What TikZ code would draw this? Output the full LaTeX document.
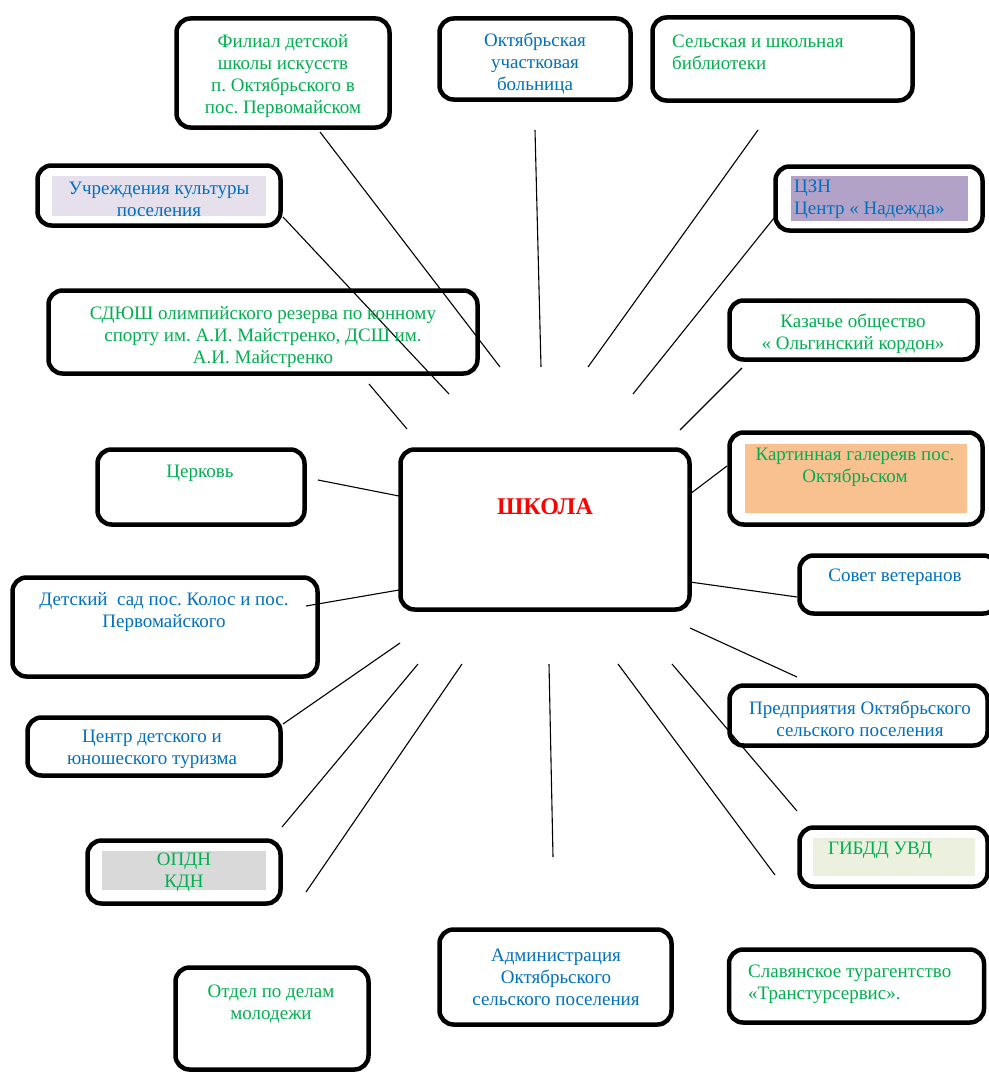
\documentclass[tikz,border=0pt]{standalone}
\usepackage{fontspec}
\setmainfont{Liberation Serif}[Ligatures=TeX]
\definecolor{tgreen}{HTML}{00B050}
\definecolor{tblue}{HTML}{0070C0}
\definecolor{tred}{HTML}{FF0000}
\definecolor{shlav}{HTML}{E5E0EC}
\definecolor{shpurp}{HTML}{B2A2C7}
\definecolor{shorange}{HTML}{F9C090}
\definecolor{shgrey}{HTML}{D9D9D9}
\definecolor{shgreen}{HTML}{EBF1DE}
\tikzset{
  box/.style={draw=black, line width=4.5pt, rounded corners=14pt, inner sep=0pt, fill=white},
  txt/.style={inner sep=0pt, font=\rmfamily\fontsize{19}{22}\selectfont\frenchspacing, align=center},
  ltxt/.style={txt, align=left, anchor=west},
  link/.style={draw=black, line width=1.1pt}
}
\begin{document}
\frenchspacing
\begin{tikzpicture}[x=1pt,y=-1pt]
\useasboundingbox (0,0) rectangle (988,1073);
\fill[white] (0,0) rectangle (988,1073);

% connectors (free-ended, as in the reference)
\coordinate (fil-a) at (320,132);  \coordinate (fil-b) at (500,367);
\coordinate (bol-a) at (535,130);  \coordinate (bol-b) at (541,367);
\coordinate (bib-a) at (758,130);  \coordinate (bib-b) at (588,367);
\coordinate (kul-a) at (283,217);  \coordinate (kul-b) at (449,394);
\coordinate (czn-a) at (774,218);  \coordinate (czn-b) at (633,394);
\coordinate (sdy-a) at (369,384);  \coordinate (sdy-b) at (407,429);
\coordinate (kaz-a) at (742,368);  \coordinate (kaz-b) at (680,430);
\coordinate (gal-a) at (727,466);  \coordinate (gal-b) at (690,494);
\coordinate (cer-a) at (318,480);  \coordinate (cer-b) at (399,496);
\coordinate (sad-a) at (306,606);  \coordinate (sad-b) at (399,590);
\coordinate (sov-a) at (690,582);  \coordinate (sov-b) at (797,597);
\coordinate (pre-a) at (690,628);  \coordinate (pre-b) at (797,677);
\coordinate (tur-a) at (283,724);  \coordinate (tur-b) at (400,643);
\coordinate (opd-a) at (282,827);  \coordinate (opd-b) at (418,664);
\coordinate (otd-a) at (306,892);  \coordinate (otd-b) at (462,664);
\coordinate (adm-a) at (549,664);  \coordinate (adm-b) at (553,857);
\coordinate (sla-a) at (618,664);  \coordinate (sla-b) at (775,875);
\coordinate (gib-a) at (672,664);  \coordinate (gib-b) at (797,811);

% boxes
\node[box, minimum width=213, minimum height=109] (fil) at (283,73) {};
\node[box, minimum width=191, minimum height=81] (bol) at (535,59) {};
\node[box, minimum width=260, minimum height=83] (bib) at (782.5,59) {};
\node[box, minimum width=243, minimum height=60] (kul) at (159,195.5) {};
\node[box, minimum width=207, minimum height=64] (czn) at (879,198.5) {};
\node[box, minimum width=429, minimum height=83] (sdy) at (263,332) {};
\node[box, minimum width=248, minimum height=59] (kaz) at (853.5,330) {};
\node[box, minimum width=253, minimum height=92] (gal) at (856,478.5) {};
\node[box, minimum width=207, minimum height=75] (cer) at (201,487) {};
\node[box, minimum width=289, minimum height=160] (sch) at (545,529.5) {};
\node[box, minimum width=305, minimum height=99] (sad) at (165,627) {};
\node[box, minimum width=198, minimum height=58] (sov) at (898.5,584.5) {};
\node[box, minimum width=258, minimum height=60] (pre) at (858.5,715.5) {};
\node[box, minimum width=253, minimum height=58] (tur) at (154,746.5) {};
\node[box, minimum width=193, minimum height=63] (opd) at (184,872) {};
\node[box, minimum width=188, minimum height=59] (gib) at (893.5,857) {};
\node[box, minimum width=232, minimum height=95] (adm) at (555.5,977) {};
\node[box, minimum width=255, minimum height=73] (sla) at (856.5,986) {};
\node[box, minimum width=193, minimum height=102] (otd) at (272,1018.5) {};

% lines drawn over the boxes where they cross in the reference
\foreach \n in {fil,bol,bib,kul,czn,sdy,kaz,gal,cer,sad,sov,pre,tur,opd,otd,adm,sla,gib}
  \draw[link] (\n-a) -- (\n-b);

% shaded text backgrounds
\fill[shlav] (52,176) rectangle (266,216);
\fill[shpurp] (791,176) rectangle (968,221);
\fill[shorange] (745,444) rectangle (967,513);
\fill[shgrey] (102,851) rectangle (266,890);
\fill[shgreen] (813,838) rectangle (975,876);

% texts
\node[txt, text=tgreen] (fil-t) at (283,76) {Филиал детской\\школы искусств\\ п. Октябрьского в\\пос. Первомайском};
\node[txt, text=tblue] (bol-t) at (535,64) {Октябрьская\\участковая\\больница};
\node[ltxt, text=tgreen] (bib-t) at (672,52.5) {Сельская и школьная\\библиотеки};
\node[txt, text=tblue] (kul-t) at (159,199) {Учреждения культуры\\поселения};
\node[ltxt, text=tblue] (czn-t) at (794,199) {ЦЗН\\Центр « Надежда»};
\node[txt, text=tgreen] (sdy-t) at (263,337) {СДЮШ олимпийского резерва по конному\\спорту им. А.И. Майстренко, ДСШ им.\\А.И. Майстренко};
\node[txt, text=tgreen] (kaz-t) at (853,333.5) {Казачье общество\\« Ольгинский кордон»};
\node[txt, text=tgreen] (gal-t) at (855,467.5) {Картинная галереяв пос.\\Октябрьском};
\node[txt, text=tgreen] (cer-t) at (200,473) {Церковь};
\node[txt, text=tred, font=\rmfamily\fontsize{24}{28}\selectfont\bfseries] (sch-t) at (545,507) {ШКОЛА};
\node[txt, text=tblue] (sad-t) at (164,612.5) {Детский\ \ сад пос. Колос и пос.\\Первомайского};
\node[txt, text=tblue] (sov-t) at (895,577) {Совет ветеранов};
\node[txt, text=tblue] (pre-t) at (860,719) {Предприятия Октябрьского\\сельского поселения};
\node[txt, text=tblue] (tur-t) at (152,749) {Центр детского и\\юношеского туризма};
\node[txt, text=tgreen] (opd-t) at (184,872.5) {ОПДН\\КДН};
\node[txt, text=tgreen] (gib-t) at (880,850) {ГИБДД УВД};
\node[txt, text=tblue] (adm-t) at (556,977) {Администрация\\Октябрьского\\сельского поселения};
\node[ltxt, text=tgreen] (sla-t) at (748,984) {Славянское турагентство\\«Транстурсервис».};
\node[txt, text=tgreen] (otd-t) at (271,1004) {Отдел по делам\\молодежи};
\end{tikzpicture}
\end{document}
